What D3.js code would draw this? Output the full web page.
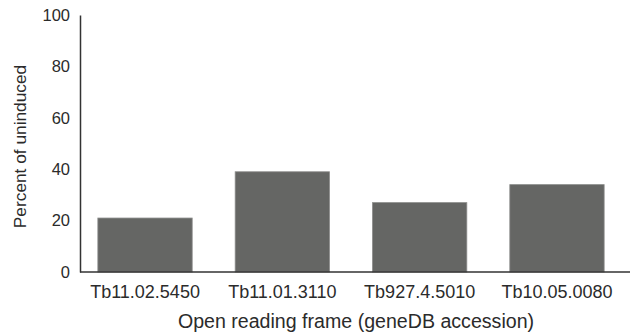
<!DOCTYPE html>
<html>
<head>
<meta charset="utf-8">
<script src="https://cdn.jsdelivr.net/npm/d3@7"></script>
<style>
  body { margin: 0; background: #fff; }
  svg text { font-family: "Liberation Sans", Arial, sans-serif; fill: #2b2b2b; }
</style>
</head>
<body>
<svg id="chart"></svg>
<script>
// data
const genes = ['Tb11.02.5450', 'Tb11.01.3110', 'Tb927.4.5010', 'Tb10.05.0080'];
const percentUninduced = [21, 39, 27, 34];
const yTicks = [0, 20, 40, 60, 80, 100];

const width = 632, height = 335;
const margin = {top: 15, right: 2, bottom: 63, left: 80};

const svg = d3.select('#chart')
    .attr('width', width)
    .attr('height', height);

// Scales
const xScale = d3.scaleBand()
    .domain(genes)
    .range([margin.left, 622])
    .paddingInner(0.313)
    .paddingOuter(0.13);

const yScale = d3.scaleLinear()
    .domain([0, 100])
    .range([height - margin.bottom, margin.top]);

// Bars
svg.selectAll('.bar')
    .data(genes)
    .join('rect')
    .attr('class', 'bar')
    .attr('x', d => xScale(d))
    .attr('y', (d, i) => yScale(percentUninduced[i]))
    .attr('width', xScale.bandwidth())
    .attr('height', (d, i) => yScale(0) - yScale(percentUninduced[i]))
    .attr('fill', '#656664')
    .attr('stroke', '#8c8d8b')
    .attr('stroke-width', 0.8);

// Y axis (line only, no ticks)
const yAxis = d3.axisLeft(yScale)
    .tickValues(yTicks)
    .tickSize(0)
    .tickPadding(10);

const yAxisG = svg.append('g')
    .attr('transform', `translate(${margin.left},0)`)
    .call(yAxis);
yAxisG.select('.domain').attr('stroke', '#333').attr('stroke-width', 1.5);
yAxisG.selectAll('text').style('font-size', '16.5px');

// X axis
const xAxis = d3.axisBottom(xScale)
    .tickSize(0)
    .tickPadding(13.5);

const xAxisG = svg.append('g')
    .attr('transform', `translate(0,${yScale(0)})`)
    .call(xAxis);
xAxisG.select('.domain').remove();
xAxisG.selectAll('text').style('font-size', '18px');

// baseline runs to the right edge
svg.append('line')
    .attr('x1', margin.left)
    .attr('x2', 630)
    .attr('y1', yScale(0))
    .attr('y2', yScale(0))
    .attr('stroke', '#333')
    .attr('stroke-width', 1.5);

// Axis titles
svg.append('text')
    .attr('transform', `translate(25.5,${(yScale(0) + yScale(100)) / 2 + 3}) rotate(-90)`)
    .attr('text-anchor', 'middle')
    .style('font-size', '17.3px')
    .text('Percent of uninduced');

svg.append('text')
    .attr('x', 356)
    .attr('y', 327.5)
    .attr('text-anchor', 'middle')
    .style('font-size', '19.6px')
    .text('Open reading frame (geneDB accession)');
</script>
</body>
</html>
